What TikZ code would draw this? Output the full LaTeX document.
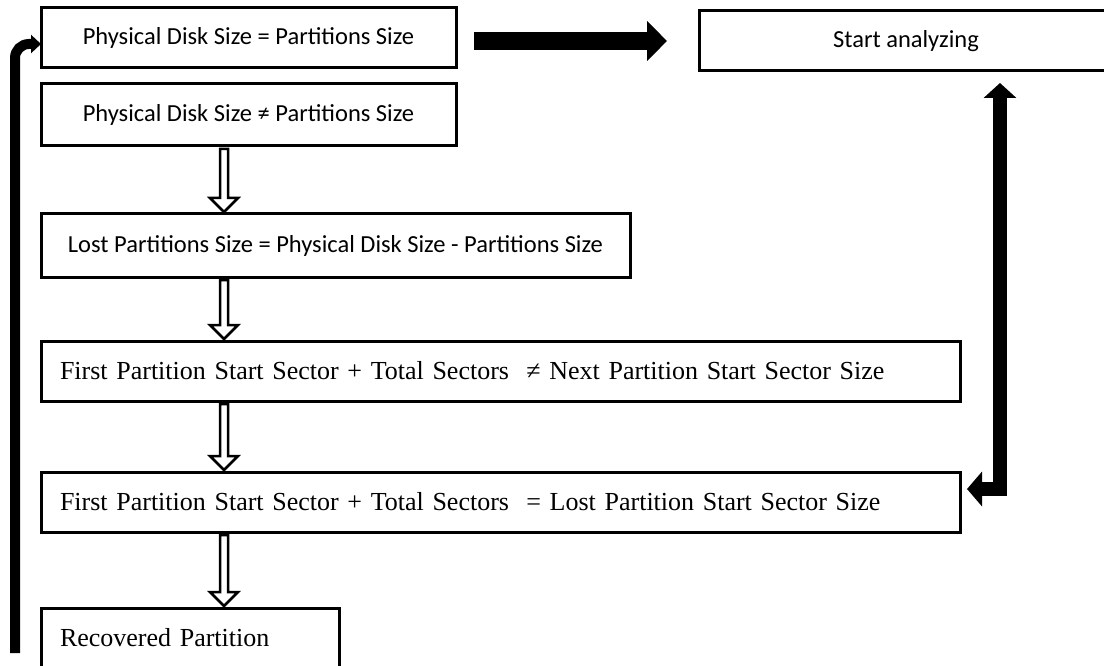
\documentclass[tikz,border=0pt]{standalone}
\usepackage{fontspec}
\setmainfont{Liberation Serif}
\newfontfamily\calibrifont{Carlito}
\usetikzlibrary{arrows.meta, positioning, calc}
\tikzset{
  box/.style={rectangle, draw, line width=3pt, outer sep=0pt, inner sep=0pt,
    minimum height=60pt},
  sansbox/.style={box, align=center, font=\calibrifont\fontsize{24.5}{29}\selectfont},
  serifbox/.style={box, align=left, inner xsep=19pt, font=\fontsize{26}{31}\selectfont},
  hollow/.style={draw, fill=white, line width=2.5pt},
  fatarrow/.style={-{Triangle[length=20pt, width=39pt]}, line width=18pt},
  twoway/.style={{Triangle[length=15pt, width=32pt]}-{Triangle[length=15pt, width=34pt]},
    line width=14pt},
  loopline/.style={-{Triangle[length=10pt, width=18pt]}, line width=10pt, rounded corners=14pt},
}
\newcommand{\hollowdown}[2]{%
  \draw[hollow] ($(#1.south -| spine)+(-4,3)$) -- ($(#2.north -| spine)+(-4,-16)$)
    -- ++(-10,0) -- ($(#2.north -| spine)+(0,-2)$) -- ++(14,-14) -- ++(-10,0)
    -- ($(#1.south -| spine)+(4,3)$) -- cycle;}

\begin{document}
\begin{tikzpicture}[x=1pt, y=-1pt]
  \path[use as bounding box] (0,0) rectangle (1104,666);
  \clip (0,0) rectangle (1104,666);
  % left column of checks
  \node[sansbox, minimum width=415pt, anchor=north west] (eqsize) at (41,8)
    {Physical Disk Size = Partitions Size};
  \node[sansbox, minimum width=415pt, minimum height=62pt,
        below right=16pt and 0pt of eqsize.south west] (neqsize)
    {Physical Disk Size ≠ Partitions Size};
  \node[sansbox, minimum width=589pt, minimum height=63pt,
        below right=68pt and 0pt of neqsize.south west] (lostsize)
    {Lost Partitions Size = Physical Disk Size - Partitions Size};
  \node[serifbox, text width=881pt, below right=64pt and 0pt of lostsize.south west]
    (nextsector) {First Partition Start Sector + Total Sectors~ ≠ Next Partition Start Sector Size};
  \node[serifbox, text width=881pt, below right=71pt and 0pt of nextsector.south west]
    (lostsector) {First Partition Start Sector + Total Sectors~ = Lost Partition Start Sector Size};
  \node[serifbox, text width=260pt, below right=76pt and 0pt of lostsector.south west]
    (recovered) {Recovered Partition};
  \node[sansbox, minimum width=414pt, below right=3pt and 243pt of eqsize.north east]
    (start) {Start analyzing};

  \coordinate (spine) at (224,0);
  \coordinate (rturn) at (1000,489);
  \coordinate (lbottom) at (15,653);

  \hollowdown{neqsize}{lostsize}
  \hollowdown{lostsize}{nextsector}
  \hollowdown{nextsector}{lostsector}
  \hollowdown{lostsector}{recovered}

  \draw[fatarrow] ($(eqsize.east |- start.west)+(18,0)$) -- ($(start.west)+(-32,0)$);
  \draw[twoway] ($(start.south -| rturn)+(0,12)$) -- (rturn)
    -- ($(lostsector.east |- rturn)+(7,0)$);
  \draw[loopline] (lbottom) |- ([yshift=-6pt]eqsize.west);
\end{tikzpicture}
\end{document}
